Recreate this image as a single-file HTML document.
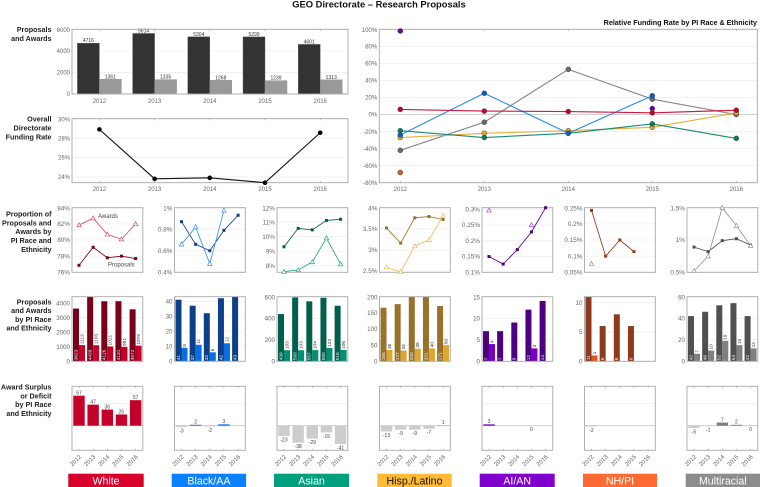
<!DOCTYPE html>
<html lang="en">
<head>
<meta charset="utf-8">
<title>GEO Directorate – Research Proposals</title>
<style>
html,body{margin:0;padding:0;background:#fff;width:760px;height:487px;overflow:hidden}
svg{display:block;font-family:"Liberation Sans",Arial,sans-serif}
.row-label{font-size:7.2px;font-weight:bold;fill:#222;text-anchor:end}
.legend-text{font-size:10.6px;text-anchor:middle}
</style>
</head>
<body>
<svg id="chart" xmlns="http://www.w3.org/2000/svg" width="760" height="487" viewBox="0 0 760 487">
  <rect x="0" y="0" width="760" height="487" fill="#fff"/>
  <text x="379" y="7.3" text-anchor="middle" font-size="9.4" font-weight="bold" fill="#111">GEO Directorate – Research Proposals</text>
  <text x="757" y="25" text-anchor="end" font-size="7.2" font-weight="bold" fill="#111">Relative Funding Rate by PI Race &amp; Ethnicity</text>

  <g>
    <text class="row-label" x="51.5" y="32">Proposals</text>
    <text class="row-label" x="51.5" y="41">and Awards</text>
  </g>
  <g>
    <text class="row-label" x="51.5" y="121.5">Overall</text>
    <text class="row-label" x="51.5" y="130.5">Directorate</text>
    <text class="row-label" x="51.5" y="139.5">Funding Rate</text>
  </g>
  <g>
    <text class="row-label" x="51.5" y="216.5">Proportion of</text>
    <text class="row-label" x="51.5" y="225.3">Proposals and</text>
    <text class="row-label" x="51.5" y="234.2">Awards by</text>
    <text class="row-label" x="51.5" y="243.1">PI Race and</text>
    <text class="row-label" x="51.5" y="251.9">Ethnicity</text>
  </g>
  <g>
    <text class="row-label" x="51.5" y="304.5">Proposals</text>
    <text class="row-label" x="51.5" y="313.2">and Awards</text>
    <text class="row-label" x="51.5" y="321.9">by PI Race</text>
    <text class="row-label" x="51.5" y="330.6">and Ethnicity</text>
  </g>
  <g>
    <text class="row-label" x="51.5" y="389.5">Award Surplus</text>
    <text class="row-label" x="51.5" y="398.4">or Deficit</text>
    <text class="row-label" x="51.5" y="407.2">by PI Race</text>
    <text class="row-label" x="51.5" y="416.1">and Ethnicity</text>
  </g>

  <g id="plots"></g>

  <text x="98" y="218" font-size="6" fill="#444">Awards</text>
  <text x="108" y="266.5" font-size="6" fill="#444">Proposals</text>

  <g><rect x="68.3" y="473.7" width="75.4" height="13.3" fill="#d8002b"/><text class="legend-text" x="106" y="484.3" fill="#fff">White</text></g>
  <g><rect x="171.7" y="473.7" width="74.4" height="13.3" fill="#0a80ff"/><text class="legend-text" x="208.9" y="484.3" fill="#fff">Black/AA</text></g>
  <g><rect x="274" y="473.7" width="75" height="13.3" fill="#00a07e"/><text class="legend-text" x="311.5" y="484.3" fill="#fff">Asian</text></g>
  <g><rect x="377.3" y="473.7" width="74.4" height="13.3" fill="#ffbb33"/><text class="legend-text" x="414.5" y="484.3" fill="#111">Hisp./Latino</text></g>
  <g><rect x="479.7" y="473.7" width="75" height="13.3" fill="#8000cc"/><text class="legend-text" x="517.2" y="484.3" fill="#fff">AI/AN</text></g>
  <g><rect x="583" y="473.7" width="74" height="13.3" fill="#ff6a33"/><text class="legend-text" x="620" y="484.3" fill="#fff">NH/PI</text></g>
  <g><rect x="685.7" y="473.7" width="74.3" height="13.3" fill="#8c8c8c"/><text class="legend-text" x="722.8" y="484.3" fill="#fff">Multiracial</text></g>
</svg>

<script>
// ---------- data ----------
const years = [2012, 2013, 2014, 2015, 2016];

const totalProposals = [4716, 5614, 5304, 5299, 4601];
const totalAwards = [1361, 1335, 1268, 1239, 1313];
const overallRate = [28.9, 23.8, 23.9, 23.4, 28.55];

const totalTicks = [0, 2000, 4000, 6000];
const totalDomain = [0, 6000];
const rateTicks = [24, 26, 28, 30];
const rateDomain = [23.4, 30];
const relTicks = [-80, -60, -40, -20, 0, 20, 40, 60, 80, 100];
const relDomain = [-80, 100];

const relMulti = [-42, -9, 53, 18, 0];
const relNhpi = [-68, null, null, null, null];
const relAian = [98, null, null, 7, null];
const relHisp = [-27, -22, -19, -15, 2];
const relAsian = [-19, -27, -22, -11, -28];
const relBlack = [-24, 25, -22, 22, null];
const relWhite = [6, 4, 3.5, 2, 5];

const shareProposalsWhite = [76.87, 79.1, 77.8, 78, 77.7];
const shareAwardsWhite = [81.85, 82.7, 80.7, 80.1, 82];
const shareProposalsBlack = [0.87, 0.66, 0.6, 0.79, 0.93];
const shareAwardsBlack = [0.66, 0.82, 0.48, 0.975, null];
const shareProposalsAsian = [9.3, 10.57, 10.47, 11.12, 11.2];
const shareAwardsAsian = [7.58, 7.7, 8.25, 9.9, 8.1];
const shareProposalsHisp = [3.52, 3.16, 3.76, 3.79, 3.72];
const shareAwardsHisp = [2.59, 2.48, 3.09, 3.24, 3.81];
const shareProposalsAian = [0.15, 0.126, 0.172, 0.228, 0.305];
const shareAwardsAian = [0.2965, null, null, 0.25, null];
const shareProposalsNhpi = [0.2418, 0.1, 0.15, 0.114, null];
const shareAwardsNhpi = [0.0765, null, null, null, null];
const shareProposalsMulti = [0.89, 0.82, 0.99, 1.02, 0.92];
const shareAwardsMulti = [0.52, 0.75, 1.5, 1.22, 0.91];

const shareTicksWhite = [76, 78, 80, 82, 84];
const shareTicksBlack = [0.4, 0.6, 0.8, 1];
const shareTicksAsian = [8, 9, 10, 11, 12];
const shareTicksHisp = [2.5, 3, 3.5, 4];
const shareTicksAian = [0.1, 0.15, 0.2, 0.25, 0.3];
const shareTicksNhpi = [0.05, 0.1, 0.15, 0.2, 0.25];
const shareTicksMulti = [0.5, 1, 1.5];

const shareDomainWhite = [76, 84];
const shareDomainBlack = [0.4, 1];
const shareDomainAsian = [7.54, 12];
const shareDomainHisp = [2.47, 4];
const shareDomainAian = [0.1, 0.305];
const shareDomainNhpi = [0.05, 0.25];
const shareDomainMulti = [0.5, 1.5];

const countProposalsWhite = [3623, 4439, 4126, 4131, 3572];
const countAwardsWhite = [1113, 1103, 1021, 991, 1076];
const countProposalsBlack = [41, 37, 32, 42, 43];
const countAwardsBlack = [9, 11, 6, 12, 0];
const countProposalsAsian = [439, 593, 557, 590, 516];
const countAwardsAsian = [103, 103, 104, 123, 106];
const countProposalsHisp = [166, 177, 200, 201, 171];
const countAwardsHisp = [35, 33, 39, 40, 50];
const countProposalsAian = [7, 7, 9, 12, 14];
const countAwardsAian = [4, 0, 0, 3, 0];
const countProposalsNhpi = [11, 6, 8, 6, 0];
const countAwardsNhpi = [1, 0, 0, 0, 0];
const countProposalsMulti = [42, 46, 52, 54, 42];
const countAwardsMulti = [7, 10, 19, 15, 12];

const countTicksWhite = [0, 1000, 2000, 3000, 4000];
const countTicksBlack = [0, 10, 20, 30, 40];
const countTicksAsian = [0, 200, 400, 600];
const countTicksHisp = [0, 50, 100, 150, 200];
const countTicksAian = [0, 5, 10, 15];
const countTicksNhpi = [0, 5, 10];
const countTicksMulti = [0, 20, 40, 60];

const countMaxWhite = 4439;
const countMaxBlack = 43;
const countMaxAsian = 600;
const countMaxHisp = 200;
const countMaxAian = 15;
const countMaxNhpi = 11;
const countMaxMulti = 60;

const surplusWhite = [67, 47, 36, 25, 57];
const surplusBlack = [-3, 2, -2, 3, null];
const surplusAsian = [-23, -38, -29, -15, -41];
const surplusHisp = [-13, -9, -9, -7, 1];
const surplusAian = [3, null, null, 0, null];
const surplusNhpi = [-2, null, null, null, null];
const surplusMulti = [-5, -1, 7, 2, 0];
const surplusDomain = [-55, 88];
const surplusGrid = [0, 50];

// ---------- styles & groups (no positions, colours only) ----------
const groups = [
  {key:'white', dark:'#7a0019', mid:'#c4002a', light:'#dc5068', rel:'#c8002a',
   shareP:shareProposalsWhite, shareA:shareAwardsWhite, shareT:shareTicksWhite, shareD:shareDomainWhite,
   countP:countProposalsWhite, countA:countAwardsWhite, countT:countTicksWhite, countM:countMaxWhite, surplus:surplusWhite},
  {key:'black-aa', dark:'#0c4088', mid:'#0a6ee0', light:'#3c92ee', rel:'#1a80f0',
   shareP:shareProposalsBlack, shareA:shareAwardsBlack, shareT:shareTicksBlack, shareD:shareDomainBlack,
   countP:countProposalsBlack, countA:countAwardsBlack, countT:countTicksBlack, countM:countMaxBlack, surplus:surplusBlack},
  {key:'asian', dark:'#00604c', mid:'#008f70', light:'#2aa888', rel:'#008060',
   shareP:shareProposalsAsian, shareA:shareAwardsAsian, shareT:shareTicksAsian, shareD:shareDomainAsian,
   countP:countProposalsAsian, countA:countAwardsAsian, countT:countTicksAsian, countM:countMaxAsian, surplus:surplusAsian},
  {key:'hispanic', dark:'#98722a', mid:'#dca630', light:'#ecbc58', rel:'#e5a526',
   shareP:shareProposalsHisp, shareA:shareAwardsHisp, shareT:shareTicksHisp, shareD:shareDomainHisp,
   countP:countProposalsHisp, countA:countAwardsHisp, countT:countTicksHisp, countM:countMaxHisp, surplus:surplusHisp},
  {key:'ai-an', dark:'#4c0082', mid:'#7a00c0', light:'#9a48d8', rel:'#6a00a8',
   shareP:shareProposalsAian, shareA:shareAwardsAian, shareT:shareTicksAian, shareD:shareDomainAian,
   countP:countProposalsAian, countA:countAwardsAian, countT:countTicksAian, countM:countMaxAian, surplus:surplusAian},
  {key:'nh-pi', dark:'#8f3a1c', mid:'#e0582a', light:'#f0734a', rel:'#d85a20',
   shareP:shareProposalsNhpi, shareA:shareAwardsNhpi, shareT:shareTicksNhpi, shareD:shareDomainNhpi,
   countP:countProposalsNhpi, countA:countAwardsNhpi, countT:countTicksNhpi, countM:countMaxNhpi, surplus:surplusNhpi},
  {key:'multiracial', dark:'#505050', mid:'#808080', light:'#969696', rel:'#707070',
   shareP:shareProposalsMulti, shareA:shareAwardsMulti, shareT:shareTicksMulti, shareD:shareDomainMulti,
   countP:countProposalsMulti, countA:countAwardsMulti, countT:countTicksMulti, countM:countMaxMulti, surplus:surplusMulti}
];

const relSeries = [
  {key:'multiracial', color:'#7c7c7c', dot:'#6a6a6a', values:relMulti},
  {key:'nh-pi', color:'#d85a20', dot:'#d85a20', values:relNhpi},
  {key:'ai-an', color:'#6a00a8', dot:'#6a00a8', values:relAian},
  {key:'hispanic', color:'#e5a526', dot:'#e5a526', values:relHisp},
  {key:'asian', color:'#008060', dot:'#008060', values:relAsian},
  {key:'black-aa', color:'#1a80f0', dot:'#0060d0', values:relBlack},
  {key:'white', color:'#c8002a', dot:'#c8002a', values:relWhite}
];

// ---------- helpers ----------
const NS = 'http://www.w3.org/2000/svg';
const plots = document.getElementById('plots');
const AXIS = '#a8a8a8', GRID = '#efefef', TICKTXT = '#666';

function make(tag, parent, attrs, txt) {
  const el = document.createElementNS(NS, tag);
  for (const k in attrs) el.setAttribute(k, attrs[k]);
  if (txt !== undefined) el.textContent = txt;
  parent.appendChild(el);
  return el;
}
function scale(d0, d1, r0, r1) {
  return v => r0 + (v - d0) / (d1 - d0) * (r1 - r0);
}
function pct(v) { return v + '%'; }

let clipCount = 0;
function clipFor(box) {
  const id = 'clip-' + (clipCount++);
  const cp = make('clipPath', plots, {id: id});
  make('rect', cp, {x: box.x, y: box.y, width: box.w, height: box.h});
  return 'url(#' + id + ')';
}

function yAxis(parent, box, y, ticks, fmt, size, name) {
  ticks.forEach(t => {
    const grid = make('line', parent, {x1: box.x, x2: box.x + box.w, y1: y(t), y2: y(t), stroke: GRID, 'stroke-width': 0.8});
    
    
    const lab = make('text', parent, {x: box.x - 2, y: Math.max(y(t) + 2.2, box.y + 2.6), 'text-anchor': 'end', 'font-size': size, fill: TICKTXT}, fmt(t));
    
    
  });
}
function frame(parent, box, name) {
  const f = make('rect', parent, {x: box.x, y: box.y, width: box.w, height: box.h, fill: 'none', stroke: AXIS, 'stroke-width': 0.9});
  
  
}
function xTicks(parent, box, xs, name) {
  xs.forEach(x => {
    const a = make('line', parent, {x1: x, x2: x, y1: box.y, y2: box.y + 1.6, stroke: '#999', 'stroke-width': 0.6});
    
    
    const b = make('line', parent, {x1: x, x2: x, y1: box.y + box.h - 1.6, y2: box.y + box.h, stroke: '#999', 'stroke-width': 0.6});
    
    
  });
}
function xLabels(parent, xs, yPos, name) {
  xs.forEach((x, j) => {
    const t = make('text', parent, {x: x, y: yPos, 'text-anchor': 'middle', 'font-size': 6, fill: TICKTXT}, years[j]);
    
    
  });
}
function segments(xs, y, values) {
  const out = [];
  let cur = [];
  values.forEach((v, j) => {
    if (v === null) { if (cur.length) out.push(cur); cur = []; }
    else cur.push(xs[j].toFixed(2) + ',' + y(v).toFixed(2));
  });
  if (cur.length) out.push(cur);
  return out.filter(s => s.length > 1).map(s => s.join(' '));
}

// ---------- row 1: total proposals & awards ----------
(function () {
  const box = {x: 72, y: 29.3, w: 276, h: 64.7};
  const g = make('g', plots, {});
  
  
  const xs = years.map((_, j) => 99.4 + j * 55.2);
  const y = scale(totalDomain[0], totalDomain[1], box.y + box.h, box.y);
  yAxis(g, box, y, totalTicks, String, 6, 'totals');
  years.forEach((yr, j) => {
    const p = make('rect', g, {x: xs[j] - 22, y: y(totalProposals[j]), width: 22, height: y(0) - y(totalProposals[j]), fill: '#333', stroke: '#666', 'stroke-width': 0.4});
    
    
    const a = make('rect', g, {x: xs[j], y: y(totalAwards[j]), width: 22, height: y(0) - y(totalAwards[j]), fill: '#999', stroke: '#888', 'stroke-width': 0.4});
    
    
    const pl = make('text', g, {x: xs[j] - 11, y: y(totalProposals[j]) - 1, 'text-anchor': 'middle', 'font-size': 5, fill: '#333'}, totalProposals[j]);
    
    
    const al = make('text', g, {x: xs[j] + 11, y: y(totalAwards[j]) - 1, 'text-anchor': 'middle', 'font-size': 5, fill: '#333'}, totalAwards[j]);
    
    
  });
  frame(g, box, 'totals');
  xTicks(g, box, xs, 'totals');
  xLabels(g, xs, 103, 'totals');
})();

// ---------- row 2: overall funding rate ----------
(function () {
  const box = {x: 72, y: 118.7, w: 276, h: 64};
  const g = make('g', plots, {});
  
  
  const xs = years.map((_, j) => 99.4 + j * 55.2);
  const y = scale(rateDomain[0], rateDomain[1], box.y + box.h, box.y);
  yAxis(g, box, y, rateTicks, pct, 6, 'rate');
  frame(g, box, 'rate');
  xTicks(g, box, xs, 'rate');
  const line = make('polyline', g, {points: segments(xs, y, overallRate)[0], fill: 'none', stroke: '#111', 'stroke-width': 1.1});
  
  
  overallRate.forEach((v, j) => {
    const c = make('circle', g, {cx: xs[j], cy: y(v), r: 2.3, fill: '#000'});
    
    
  });
  xLabels(g, xs, 191, 'rate');
})();

// ---------- relative funding rate ----------
(function () {
  const box = {x: 379.3, y: 29.3, w: 378, h: 153.4};
  const g = make('g', plots, {});
  
  
  const xs = years.map((_, j) => 400.3 + j * 84);
  const y = scale(relDomain[0], relDomain[1], box.y + box.h, box.y);
  yAxis(g, box, y, relTicks, pct, 6.1, 'relative');
  const zero = make('line', g, {x1: box.x, x2: box.x + box.w, y1: y(0), y2: y(0), stroke: '#ccc', 'stroke-width': 0.9});
  
  
  frame(g, box, 'relative');
  xTicks(g, box, xs, 'relative');
  relSeries.forEach(s => {
    segments(xs, y, s.values).forEach(pts => {
      const l = make('polyline', g, {points: pts, fill: 'none', stroke: s.color, 'stroke-width': 1.15, 'stroke-opacity': 0.9});
      
      
    });
    s.values.forEach((v, j) => {
      if (v === null) return;
      const c = make('circle', g, {cx: xs[j], cy: y(v), r: 2.5, fill: s.dot, stroke: '#444', 'stroke-width': 0.5});
      
      
    });
  });
  xLabels(g, xs, 191, 'relative');
})();

// ---------- small multiples ----------
const panelLeft = i => 72 + i * 102.5;
const panelWidth = 70.8;
const yearX = (i, j) => panelLeft(i) + 7 + j * 14.15;

groups.forEach((grp, i) => {
  const xs = years.map((_, j) => yearX(i, j));

  // proportion row
  (function () {
    const box = {x: panelLeft(i), y: 207.7, w: panelWidth, h: 64.6};
    const g = make('g', plots, {});
    
    
    const y = scale(grp.shareD[0], grp.shareD[1], box.y + box.h, box.y);
    yAxis(g, box, y, grp.shareT, pct, 6.4, 'proportion');
    frame(g, box, 'proportion');
    segments(xs, y, grp.shareP).forEach(pts => {
      const l = make('polyline', g, {points: pts, fill: 'none', stroke: grp.dark, 'stroke-width': 0.85});
      
      
    });
    segments(xs, y, grp.shareA).forEach(pts => {
      const l = make('polyline', g, {points: pts, fill: 'none', stroke: grp.light, 'stroke-width': 0.85});
      
      
    });
    grp.shareP.forEach((v, j) => {
      if (v === null) return;
      const m = make('rect', g, {x: xs[j] - 1.5, y: y(v) - 1.5, width: 3, height: 3, fill: grp.dark});
      
      
    });
    grp.shareA.forEach((v, j) => {
      if (v === null) return;
      const c = y(v);
      const pts = [xs[j], c - 2.3, xs[j] + 2.2, c + 1.7, xs[j] - 2.2, c + 1.7].join(' ');
      const m = make('polygon', g, {points: pts, fill: '#fff', stroke: grp.light, 'stroke-width': 0.7});
      
      
    });
  })();

  // count row
  (function () {
    const box = {x: panelLeft(i), y: 296.7, w: panelWidth, h: 64.6};
    const g = make('g', plots, {});
    
    
    const y = scale(0, grp.countM, box.y + box.h, box.y);
    yAxis(g, box, y, grp.countT, String, 6.2, 'counts');
    const clip = clipFor(box);
    const bars = make('g', g, {'clip-path': clip});
    
    
    years.forEach((yr, j) => {
      const pv = grp.countP[j], av = grp.countA[j];
      if (pv) {
        const p = make('rect', bars, {x: xs[j] - 6, y: y(pv), width: 6, height: y(0) - y(pv), fill: grp.dark});
        
        
      }
      if (av) {
        const a = make('rect', bars, {x: xs[j], y: y(av), width: 6, height: y(0) - y(av), fill: grp.mid});
        
        
      }
    });
    years.forEach((yr, j) => {
      const pv = grp.countP[j], av = grp.countA[j];
      if (pv) {
        const tx = xs[j] - 2.9, ty = y(0) - 1;
        const t = make('text', g, {x: tx, y: ty, 'font-size': 4.8, fill: '#f2f2f2', transform: 'rotate(-90 ' + tx + ' ' + ty + ')', 'dominant-baseline': 'middle'}, pv);
        
        
      }
      if (av) {
        const tx = xs[j] + 3.1, ty = y(av) - 1;
        const t = make('text', g, {x: tx, y: ty, 'font-size': 4.8, fill: '#333', transform: 'rotate(-90 ' + tx + ' ' + ty + ')', 'dominant-baseline': 'middle'}, av);
        
        
      }
    });
    frame(g, box, 'counts');
  })();

  // surplus row
  (function () {
    const box = {x: panelLeft(i), y: 386.3, w: panelWidth, h: 64};
    const g = make('g', plots, {});
    
    
    const y = scale(surplusDomain[0], surplusDomain[1], box.y + box.h, box.y);
    surplusGrid.forEach(t => {
      const l = make('line', g, {x1: box.x, x2: box.x + box.w, y1: y(t), y2: y(t), stroke: t === 0 ? '#cfcfcf' : GRID, 'stroke-width': t === 0 ? 1 : 0.8});
      
      
    });
    grp.surplus.forEach((v, j) => {
      if (v === null) return;
      if (v !== 0) {
        const top = Math.min(y(v), y(0));
        const b = make('rect', g, {x: xs[j] - 5.7, y: top, width: 11.4, height: Math.abs(y(v) - y(0)), fill: v > 0 ? grp.mid : '#cdcdcd'});
        
        
      }
      const ly = v > 0 ? y(v) - 1.2 : y(Math.min(v, 0)) + 5.4;
      const t = make('text', g, {x: xs[j], y: ly, 'text-anchor': 'middle', 'font-size': 5, fill: '#444'}, v);
      
      
    });
    frame(g, box, 'surplus');
    xTicks(g, box, xs, 'surplus');
    xs.forEach((x, j) => {
      const tx = x + 2.6, ty = 457.2;
      const t = make('text', g, {x: tx, y: ty, 'text-anchor': 'end', 'font-size': 6, fill: TICKTXT, transform: 'rotate(-45 ' + tx + ' ' + ty + ')'}, years[j]);
      
      
    });
  })();
});
</script>
</body>
</html>
